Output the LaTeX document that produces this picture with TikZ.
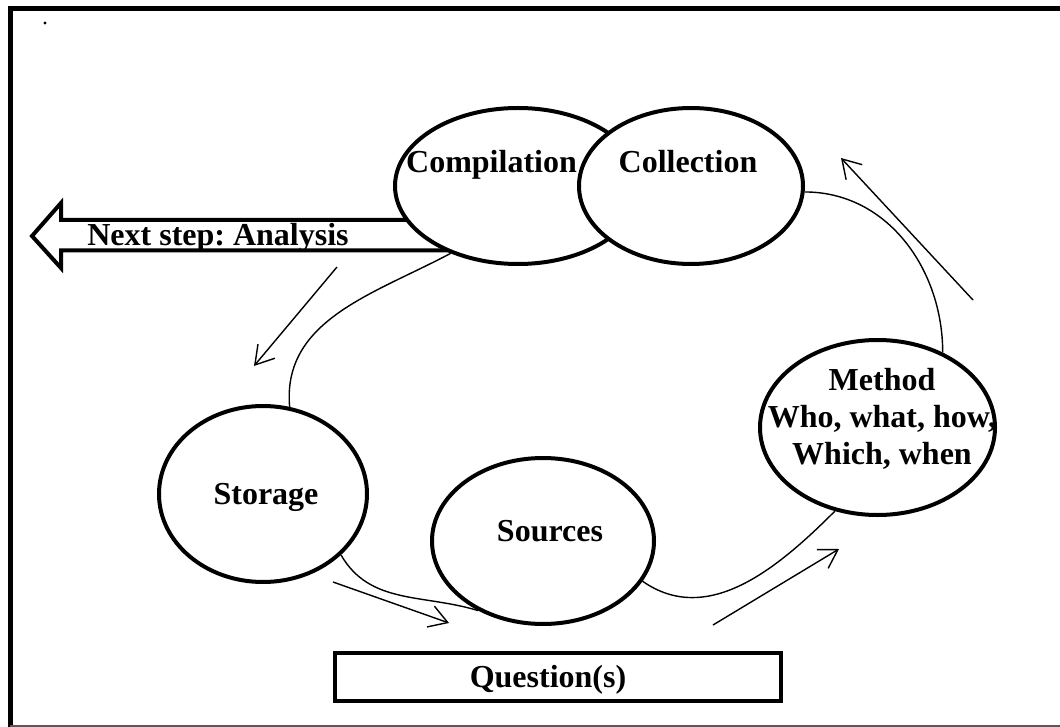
\documentclass[tikz,border=0pt]{standalone}
\usepackage{fontspec}
\setmainfont{Liberation Serif}
\usetikzlibrary{shapes.geometric,arrows.meta}
\frenchspacing
\begin{document}
\begin{tikzpicture}[x=0.5pt,y=-0.5pt,
  bubble/.style={ellipse, draw, line width=2pt, fill=white, inner sep=0pt},
  lbl/.style={font=\fontsize{16}{18.5}\selectfont\bfseries, inner sep=0pt},
  link/.style={line width=0.7pt},
  flow/.style={line width=0.7pt, -{Straight Barb[length=9pt,width=11pt,line width=0.7pt]}},
]
\useasboundingbox (0,0) rectangle (1060,727);

% page frame
\draw[line width=2.5pt] (10,727) -- (10,9) -- (1060,9);
\draw[line width=0.6pt, black!65] (10,726) -- (1060,726);
\fill (45,23) circle (1.6);

% block arrow towards the next step
\path[fill=white] (480,220) -- (61,220) -- (61,203) -- (32,236) -- (61,268) -- (61,250.5) -- (480,250.5) -- cycle;
\node[lbl, anchor=base] (next) at (218,246) {Next step: Analysis};
\draw[line width=2pt, miter limit=10] (480,220) -- (61,220) -- (61,203) -- (32,236) -- (61,268) -- (61,250.5) -- (480,250.5);

% the cycle
\node[bubble, minimum width=123pt, minimum height=78pt] (comp) at (518,186) {};
\node[bubble, minimum width=112pt, minimum height=78pt] (coll) at (691,186) {};
\node[bubble, minimum width=104pt, minimum height=88pt] (stor) at (263,494) {};
\node[bubble, minimum width=111pt, minimum height=83pt] (src) at (543,541) {};
\node[bubble, minimum width=117.5pt, minimum height=87.5pt] (meth) at (877.5,427.5) {};
\node[draw, line width=2pt, minimum width=223pt, minimum height=24pt, inner sep=0pt] (qbox) at (558,676.5) {};

\node[lbl, anchor=base] (compt) at (491.5,173) {Compilation};
\node[lbl, anchor=base] (collt) at (688,173) {Collection};
\node[lbl, anchor=base] (stort) at (266,504) {Storage};
\node[lbl, anchor=base] (srct) at (550,541) {Sources};
\node[lbl, anchor=north, align=center] (metht) at (882,368) {Method\\Who, what, how,\\Which, when};
\node[lbl, anchor=base] (qt) at (548,687) {Question(s)};

% connecting curves
\draw[link] (coll.-3) to[out=0,in=90] (meth.49);
\draw[link] (comp.225) to[out=208,in=95] (stor.73);
\draw[link] (stor.-38) to[out=-60,in=163] (src.227);
\draw[link] (src.-22) to[out=-35,in=225] (meth.243);

% direction arrows
\coordinate (a1s) at (973,300); \coordinate (a1e) at (841,158);
\coordinate (a2s) at (337,267); \coordinate (a2e) at (254,366);
\coordinate (a3s) at (333,582); \coordinate (a3e) at (449,623);
\coordinate (a4s) at (713,625); \coordinate (a4e) at (839,549);
\draw[flow] (a1s) -- (a1e);
\draw[flow] (a2s) -- (a2e);
\draw[flow] (a3s) -- (a3e);
\draw[flow] (a4s) -- (a4e);
\end{tikzpicture}
\end{document}
